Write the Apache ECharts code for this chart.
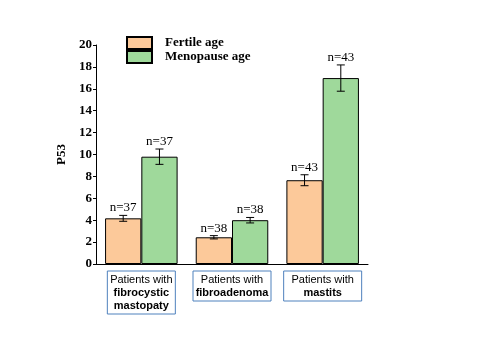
<!DOCTYPE html>
<html>
<head>
<meta charset="utf-8">
<script src="https://cdn.jsdelivr.net/npm/echarts@6/dist/echarts.min.js"></script>
<style>
  html, body { margin: 0; padding: 0; background: #fff; }
  #chart { width: 480px; height: 360px; }
</style>
</head>
<body>
<div id="chart"></div>
<script>
// values
const categories = ['fibrocystic', 'fibroadenoma', 'mastits'];
const catLines = [
  ['Patients with', 'fibrocystic', 'mastopaty'],
  ['Patients with', 'fibroadenoma'],
  ['Patients with', 'mastits']
];
const fertileVals = [4.17, 2.44, 7.65];
const fertileErr = [0.27, 0.15, 0.5];
const fertileN = ['n=37', 'n=38', 'n=43'];
const menoVals = [9.8, 4.0, 16.98];
const menoErr = [0.7, 0.25, 1.2];
const menoN = ['n=37', 'n=38', 'n=43'];
const yTicks = [0, 20, 2];

const orange = '#fcc99a',
      green = '#9fd99b',
      serif = '"Liberation Serif", "Times New Roman", serif',
      sans = '"Liberation Sans", Arial, sans-serif'
// box widths of the category labels
const boxW = [58, 68, 68]

const chart = echarts.init(document.getElementById('chart'));

// error bar + "n=" text, shifted onto the left or right bar of the pair
function errRender(side) {
  return function (params, api) {
    const ci = api.value(0)
    const v = api.value(1)
    const e = api.value(2)
    const catW = api.size([1, 0])[0]
    const bw = catW * 0.4
    const cx = api.coord([ci, v])[0] + (side === 0 ? -bw / 2 : bw / 2)
    const top = api.coord([ci, v + e])[1]
    const bot = api.coord([ci, v - e])[1]
    const cap = 4
    const st = { stroke: '#000', lineWidth: 1 }
    const txt = side === 0 ? fertileN[ci] : menoN[ci]
    return {
      type: 'group',
      children: [
        { type: 'line', shape: { x1: cx, y1: top, x2: cx, y2: bot }, style: st },
        { type: 'line', shape: { x1: cx - cap, y1: top, x2: cx + cap, y2: top }, style: st },
        { type: 'line', shape: { x1: cx - cap, y1: bot, x2: cx + cap, y2: bot }, style: st },
        {
          type: 'text',
          x: cx, y: top - 1,
          style: {
            text: txt, fill: '#000',
            font: '13px ' + serif,
            textAlign: 'center', textVerticalAlign: 'bottom'
          }
        }
      ]
    }
  }
}

const option = {
  animation: false,
  grid: { left: 96, right: 112, top: 45, bottom: 96 },
  legend: {
    orient: 'vertical',
    left: 121, top: 31,
    icon: 'rect',
    itemWidth: 25, itemHeight: 12, itemGap: 0,
    data: ['Fertile age', 'Menopause age'],
    textStyle: { fontFamily: serif, fontWeight: 'bold', fontSize: 13, color: '#000', padding: [0, 0, 0, 8] }
  },
  xAxis: {
    type: 'category',
    data: categories.map((c, i) => ({ value: c, textStyle: { width: boxW[i] } })),
    axisLine: { lineStyle: { color: '#000', width: 1 } },
    axisTick: { alignWithLabel: true, length: 3, lineStyle: { color: '#000' } },
    axisLabel: {
      margin: 7,
      interval: 0,
      align: 'center',
      formatter: (val, idx) => catLines[idx].map((s, i) => i === 0 ? '{n|' + s + '}' : '{b|' + s + '}').join('\n'),
      borderColor: '#4f81bd', borderWidth: 1,
      padding: [2, 5, 2, 5],
      rich: {
        n: { fontFamily: sans, fontSize: 11, color: '#000', lineHeight: 13, align: 'center' },
        b: { fontFamily: sans, fontSize: 11, fontWeight: 'bold', color: '#000', lineHeight: 13, align: 'center' }
      }
    }
  },
  yAxis: {
    type: 'value',
    min: yTicks[0], max: yTicks[1], interval: yTicks[2],
    name: 'P53',
    nameLocation: 'middle',
    nameGap: 28,
    nameTextStyle: { fontFamily: serif, fontWeight: 'bold', fontSize: 13, color: '#000' },
    axisLine: { show: true, lineStyle: { color: '#000', width: 1 } },
    axisTick: { show: true, length: 3, lineStyle: { color: '#000' } },
    splitLine: { show: false },
    axisLabel: { fontFamily: serif, fontWeight: 'bold', fontSize: 13, color: '#000', margin: 4 }
  },
  series: [
    {
      name: 'Fertile age', type: 'bar',
      data: fertileVals,
      barGap: 0, barCategoryGap: '20%',
      itemStyle: { color: orange, borderColor: '#000', borderWidth: 1 }
    },
    {
      name: 'Menopause age', type: 'bar',
      data: menoVals,
      barGap: 0, barCategoryGap: '20%',
      itemStyle: { color: green, borderColor: '#000', borderWidth: 1 }
    },
    {
      type: 'custom', renderItem: errRender(0), z: 5,
      data: fertileVals.map((v, i) => [i, v, fertileErr[i]])
    },
    {
      type: 'custom', renderItem: errRender(1), z: 5,
      data: menoVals.map((v, i) => [i, v, menoErr[i]])
    }
  ]
};
chart.setOption(option);
</script>
</body>
</html>
